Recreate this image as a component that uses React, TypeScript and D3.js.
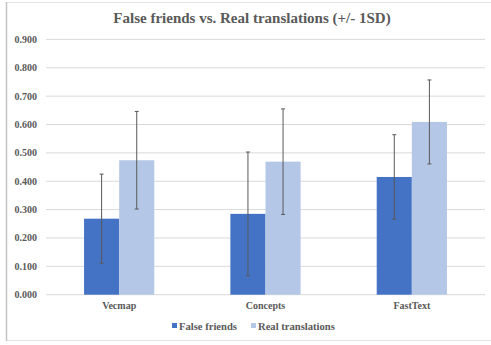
import React from "react";
import * as d3 from "d3";

const categories = ["Vecmap", "Concepts", "FastText"];
const seriesNames = ["False friends", "Real translations"];
const falseFriendsMean = [0.268, 0.285, 0.415];
const falseFriendsSD = [0.157, 0.218, 0.149];
const realMean = [0.474, 0.469, 0.609];
const realSD = [0.172, 0.186, 0.148];
const yTicks = [0, 0.1, 0.2, 0.3, 0.4, 0.5, 0.6, 0.7, 0.8, 0.9];
const colors = ["#4472C4", "#B4C7E7"];
const title = "False friends vs. Real translations (+/- 1SD)";

const W = 491;
const H = 345;
const plot = { left: 46, right: 485, top: 39.4, bottom: 294.7 };
const FONT = "'Liberation Serif', 'Times New Roman', serif";
const TEXT = "#595959";

export default function App() {
  const x = d3
    .scaleBand<string>()
    .domain(categories)
    .range([plot.left, plot.right])
    .paddingInner(0.52)
    .paddingOuter(0.26);
  const xs = d3
    .scaleBand<string>()
    .domain(seriesNames)
    .range([0, x.bandwidth()]);
  const y = d3.scaleLinear().domain([0, 0.9]).range([plot.bottom, plot.top]);

  const series = [
    { name: seriesNames[0], mean: falseFriendsMean, sd: falseFriendsSD, color: colors[0] },
    { name: seriesNames[1], mean: realMean, sd: realSD, color: colors[1] },
  ];

  return (
    <svg
      width={W}
      height={H}
      style={{ position: "absolute", left: 0, top: 0, background: "#fff" }}
      fontFamily={FONT}
    >
      <rect x={0} y={0} width={W} height={H} fill="#fff" />
      <line x1={6} x2={W} y1={2.5} y2={2.5} stroke="#e3e3e3" strokeWidth={1} />
      <line x1={6} x2={W} y1={340.5} y2={340.5} stroke="#e3e3e3" strokeWidth={1} />
      <line x1={6.5} x2={6.5} y1={2} y2={341} stroke="#c4c4c4" strokeWidth={1.5} />

      <text x={252} y={23} textAnchor="middle" fontSize={15} fontWeight="bold" fill={TEXT}>
        {title}
      </text>

      {yTicks.map((t) => (
        <g key={t}>
          <line
            x1={plot.left}
            x2={plot.right}
            y1={y(t)}
            y2={y(t)}
            stroke="#d9d9d9"
            strokeWidth={1}
          />
          <text
            x={37}
            y={y(t)}
            dy="0.35em"
            textAnchor="end"
            fontSize={10}
            fontWeight="bold"
            fill={TEXT}
          >
            {t.toFixed(3)}
          </text>
        </g>
      ))}

      {series.map((s) =>
        categories.map((c, i) => {
          const bx = (x(c) as number) + (xs(s.name) as number);
          const bw = xs.bandwidth();
          return (
            <rect
              key={s.name + c}
              x={bx}
              y={y(s.mean[i])}
              width={bw}
              height={y(0) - y(s.mean[i])}
              fill={s.color}
            />
          );
        })
      )}

      {series.map((s) =>
        categories.map((c, i) => {
          const cx = (x(c) as number) + (xs(s.name) as number) + xs.bandwidth() / 2;
          const hi = y(s.mean[i] + s.sd[i]);
          const lo = y(s.mean[i] - s.sd[i]);
          return (
            <g key={"e" + s.name + c} stroke="#595959" strokeWidth={1}>
              <line x1={cx} x2={cx} y1={hi} y2={lo} />
              <line x1={cx - 2} x2={cx + 2} y1={hi} y2={hi} />
              <line x1={cx - 2} x2={cx + 2} y1={lo} y2={lo} />
            </g>
          );
        })
      )}

      {categories.map((c) => (
        <text
          key={c}
          x={(x(c) as number) + x.bandwidth() / 2}
          y={308.5}
          textAnchor="middle"
          fontSize={10}
          fontWeight="bold"
          fill={TEXT}
        >
          {c}
        </text>
      ))}

      {series.map((s, k) => {
        const lx = k === 0 ? 172 : 251;
        return (
          <g key={"l" + s.name}>
            <rect x={lx} y={323} width={5} height={5} fill={s.color} />
            <text x={lx + 7} y={329.5} fontSize={10.6} fontWeight="bold" fill={TEXT}>
              {s.name}
            </text>
          </g>
        );
      })}
    </svg>
  );
}
